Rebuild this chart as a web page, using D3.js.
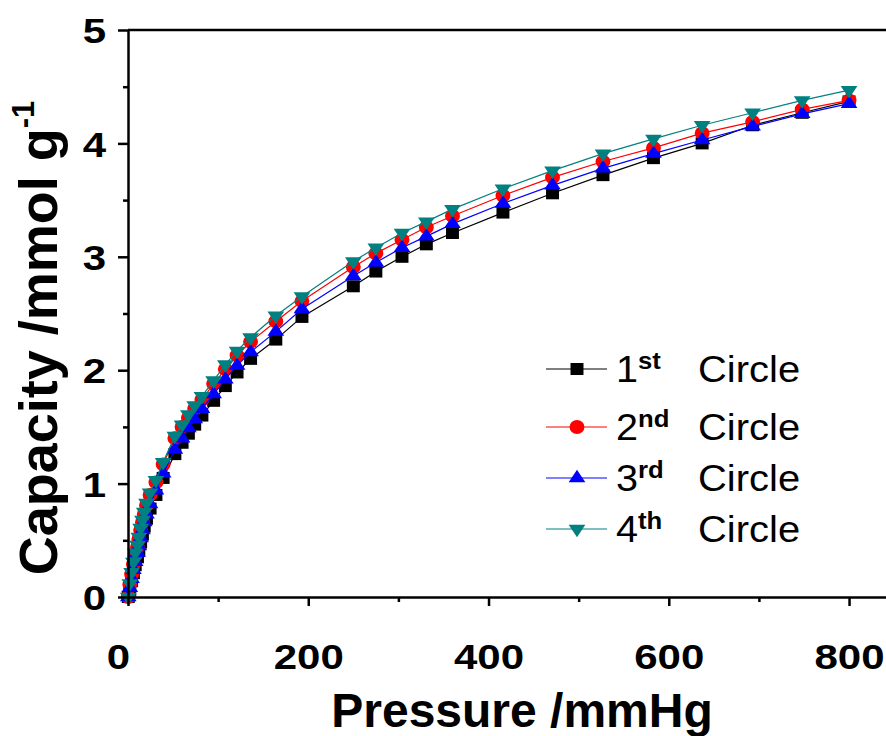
<!DOCTYPE html>
<html>
<head>
<meta charset="utf-8">
<script src="https://cdn.jsdelivr.net/npm/d3@7"></script>
<style>
body { margin: 0; background: #fff; }
svg { display: block; font-family: "Liberation Sans", Arial, sans-serif; }
</style>
</head>
<body>
<svg id="chart" width="886" height="736"></svg>
<script>
// pressure points (mmHg), shared by the four runs
var pressure = [0.3, 2, 4, 6, 8, 10.5, 12, 14, 16, 18, 20.5, 24.5, 31, 39, 52, 60, 67, 74, 82, 95,
    108, 121, 136, 164, 193, 250, 275, 304, 331, 360, 416, 471, 527, 583, 637, 693, 748, 800];

var circle1 = [0.00, 0.06, 0.14, 0.21, 0.28, 0.35, 0.41, 0.48, 0.55, 0.62, 0.69, 0.78, 0.90, 1.05, 1.26, 1.36, 1.44, 1.52, 1.60, 1.73,
    1.86, 1.98, 2.10, 2.27, 2.47, 2.74, 2.87, 3.00, 3.11, 3.21, 3.39, 3.56, 3.72, 3.87, 4.00, 4.16, 4.27, 4.37];
var circle2 = [0.00, 0.11, 0.20, 0.29, 0.37, 0.44, 0.51, 0.59, 0.66, 0.73, 0.81, 0.90, 1.01, 1.17, 1.40, 1.50, 1.58, 1.66, 1.74, 1.88,
    2.01, 2.13, 2.25, 2.43, 2.61, 2.91, 3.03, 3.15, 3.26, 3.36, 3.54, 3.70, 3.84, 3.96, 4.09, 4.19, 4.30, 4.38];
var circle3 = [0.00, 0.08, 0.16, 0.24, 0.31, 0.39, 0.45, 0.52, 0.59, 0.66, 0.73, 0.82, 0.94, 1.09, 1.30, 1.40, 1.49, 1.57, 1.66, 1.79,
    1.92, 2.04, 2.16, 2.34, 2.54, 2.83, 2.95, 3.08, 3.18, 3.29, 3.47, 3.63, 3.78, 3.91, 4.03, 4.15, 4.26, 4.35];
var circle4 = [0.00, 0.12, 0.22, 0.31, 0.39, 0.46, 0.53, 0.61, 0.68, 0.75, 0.83, 0.92, 1.03, 1.19, 1.42, 1.52, 1.61, 1.69, 1.77, 1.91,
    2.05, 2.17, 2.29, 2.48, 2.65, 2.96, 3.08, 3.21, 3.31, 3.42, 3.60, 3.76, 3.91, 4.04, 4.16, 4.27, 4.38, 4.47];

var seriesNumber = ["1", "2", "3", "4"];
var seriesSuffix = ["st", "nd", "rd", "th"];
var seriesColors = ["#000000", "#ff0000", "#0000ff", "#008080"];
var seriesShapes = ["square", "circle", "triangleUp", "triangleDown"];

var xMajorTicks = [0, 200, 400, 600, 800];
var xMinorTicks = [100, 300, 500, 700];
var yMajorTicks = [0, 1, 2, 3, 4, 5];
var yMinorTicks = [0.5, 1.5, 2.5, 3.5, 4.5];

var meta = {};

function markerPath(shape)
{
    if (shape == "square") return d3.symbol(d3.symbolSquare, 144)();
    if (shape == "circle") return d3.symbol(d3.symbolCircle, 150)();
    return d3.symbol(d3.symbolTriangle, 100)();
}

function markerTransform(shape, x, y)
{
    if (shape == "triangleDown") return `translate(${x},${y}) rotate(180) scale(1.1,0.95)`;
    if (shape == "triangleUp") return `translate(${x},${y}) scale(1.1,0.95)`;
    return `translate(${x},${y}) scale(1.08,1)`;
}

function drawAxes()
{
    var svg = meta['svg'];
    var x = meta['x'], y = meta['y'];

    var xAxis = svg.append('g')
        .attr('class', 'x-axis')
        .attr('transform', `translate(0,${y(0)})`)
        .call(d3.axisBottom(x).tickValues(xMajorTicks).tickFormat(d3.format('d')).tickSize(9).tickSizeOuter(0));
    xAxis.selectAll('.tick text')
        .attr('y', 0).attr('dy', 0)
        .attr('transform', d => `translate(${d == 0 ? -10 : 0},72) scale(1.2,1)`);

    svg.append('g')
        .attr('transform', `translate(0,${y(0)})`)
        .call(d3.axisBottom(x).tickValues(xMinorTicks).tickSize(5).tickFormat(''))
        .call(g => g.select('.domain').remove());

    var yAxis = svg.append('g')
        .attr('class', 'y-axis')
        .attr('transform', `translate(${x(0)},0)`)
        .call(d3.axisLeft(y).tickValues(yMajorTicks).tickFormat(d3.format('d')).tickSize(10).tickSizeOuter(0));
    yAxis.selectAll('.tick text')
        .attr('x', 0).attr('dy', '0.36em')
        .attr('transform', 'translate(-22,0) scale(1.2,1)');

    svg.append('g')
        .attr('transform', `translate(${x(0)},0)`)
        .call(d3.axisLeft(y).tickValues(yMinorTicks).tickSize(5).tickFormat(''))
        .call(g => g.select('.domain').remove());

    // frame line along the top
    svg.append('line')
        .attr('x1', x(0)).attr('x2', x.range()[1])
        .attr('y1', y(5)).attr('y2', y(5))
        .attr('stroke', '#000').attr('stroke-width', 2.5);

    svg.selectAll('.domain, .tick line')
        .attr('stroke', '#000')
        .attr('stroke-width', 2.5);
    svg.selectAll('.tick text')
        .attr('fill', '#000')
        .attr('font-size', 35)
        .attr('font-weight', 'bold')
        .attr('font-family', '"Liberation Sans", Arial, sans-serif');

    svg.append('text')
        .attr('x', 522).attr('y', 727)
        .attr('text-anchor', 'middle')
        .attr('font-size', 48).attr('font-weight', 'bold')
        .text('Pressure /mmHg');

    var yLabel = svg.append('text')
        .attr('transform', 'translate(57,338) rotate(-90)')
        .attr('text-anchor', 'middle')
        .attr('font-size', 54).attr('font-weight', 'bold');
    yLabel.append('tspan').text('Capacity /mmol g');
    yLabel.append('tspan').attr('font-size', 31).attr('dy', -23).text('-1');
}

function drawSeries()
{
    var svg = meta['svg'];
    var x = meta['x'], y = meta['y'];
    var all = [circle1, circle2, circle3, circle4];

    all.forEach(function(values, i) {
        var pts = pressure.map((p, j) => ({ p: p, v: values[j] }));
        var g = svg.append('g').attr('class', 'series');
        g.append('path')
            .datum(pts)
            .attr('fill', 'none')
            .attr('stroke', seriesColors[i])
            .attr('stroke-width', 1.2)
            .attr('d', d3.line().x(d => x(d.p)).y(d => y(d.v)));
        g.selectAll('path.marker')
            .data(pts)
            .enter()
            .append('path')
            .attr('class', 'marker')
            .attr('d', markerPath(seriesShapes[i]))
            .attr('transform', d => markerTransform(seriesShapes[i], x(d.p), y(d.v)))
            .attr('fill', seriesColors[i]);
    });
}

function drawLegend()
{
    var svg = meta['svg'];
    var rowY = [369, 427, 478, 529];
    seriesNumber.forEach(function(num, i) {
        var g = svg.append('g').attr('transform', `translate(0,${rowY[i]})`);
        g.append('line')
            .attr('x1', 546).attr('x2', 607)
            .attr('stroke', seriesColors[i]).attr('stroke-width', 1.2);
        g.append('path')
            .attr('d', markerPath(seriesShapes[i]))
            .attr('transform', markerTransform(seriesShapes[i], 577, 0))
            .attr('fill', seriesColors[i]);
        var t = g.append('text')
            .attr('transform', 'translate(616,13) scale(1.07,1)')
            .attr('font-size', 37);
        t.append('tspan').text(num);
        t.append('tspan').attr('font-size', 24).attr('font-weight', 'bold')
            .attr('dy', -13).text(seriesSuffix[i]);
        g.append('text')
            .attr('transform', 'translate(698,13) scale(1.08,1)')
            .attr('font-size', 37)
            .text('Circle');
    });
}

function init()
{
    meta['svg'] = d3.select('#chart');
    meta['x'] = d3.scaleLinear().domain([0, 841]).range([128, 886]);
    meta['y'] = d3.scaleLinear().domain([0, 5]).range([597, 30]);
    drawSeries();
    drawAxes();
    drawLegend();
}

init();
</script>
</body>
</html>
